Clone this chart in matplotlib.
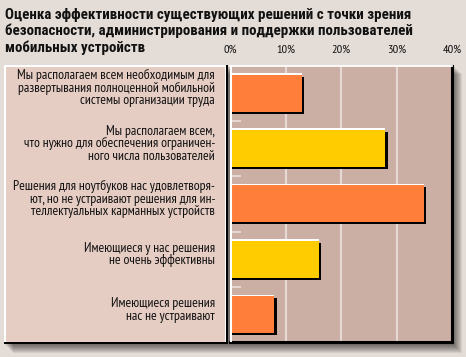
import matplotlib
matplotlib.use("Agg")
import matplotlib.pyplot as plt
import matplotlib.transforms as mtransforms
from matplotlib.patches import Rectangle
import logging
logging.getLogger("matplotlib.font_manager").setLevel(logging.ERROR)

# ---- data ----
title_lines = ["Оценка эффективности существующих решений с точки зрения",
               "безопасности, администрирования и поддержки пользователей",
               "мобильных устройств"]
categories = [
    "Мы располагаем всем необходимым для\nразвертывания полноценной мобильной\nсистемы организации труда",
    "Мы располагаем всем,\nчто нужно для обеспечения ограничен-\nного числа пользователей",
    "Решения для ноутбуков нас удовлетворя-\nют, но не устраивают решения для ин-\nтеллектуальных карманных устройств",
    "Имеющиеся у нас решения\nне очень эффективны",
    "Имеющиеся решения\nнас не устраивают",
]
values = [13, 28, 35, 16, 8]
bar_colors = ["#ff7f3a", "#ffcc00", "#ff7f3a", "#ffcc00", "#ff7f3a"]
xticks = [0, 10, 20, 30, 40]
xtick_labels = ["0%", "10%", "20%", "30%", "40%"]

W, H, DPI = 466, 357, 100
BG = "#e4dcd6"
PANEL = "#e6cdc4"
PLOT_BG = "#cbaea4"
GRID = "#e6d8d2"
TXT = "#111111"

FONT = ["PT Sans Narrow", "Roboto Condensed", "Liberation Sans Narrow", "DejaVu Sans"]
TITLE_FONT = ["Roboto Condensed", "PT Sans Narrow", "Liberation Sans Narrow", "DejaVu Sans"]
plt.rcParams["font.family"] = FONT

fig = plt.figure(figsize=(W / DPI, H / DPI), dpi=DPI, facecolor=BG)
renderer = fig.canvas.get_renderer()
dpi_t = fig.dpi_scale_trans


def fx(x):
    return x / W


def fy(y):
    return 1 - y / H


def frect(x0, y0, x1, y1, **kw):
    r = Rectangle((fx(x0), fy(y1)), fx(x1) - fx(x0), fy(y0) - fy(y1),
                  transform=fig.transFigure, **kw)
    fig.add_artist(r)
    return r


def fit_size(s, target_px, base=10, **kw):
    t = fig.text(0, 0, s, fontsize=base, **kw)
    w = t.get_window_extent(renderer).width
    t.remove()
    return base * target_px / w


# soft shadow behind both panels
for i in range(1, 10):
    frect(4 + i, 65 + i, 453 + i, 344 + i, facecolor="black", alpha=0.07,
          edgecolor="none", zorder=0.1)

# left panel
frect(4, 65, 228, 344, facecolor="black", edgecolor="none", zorder=0.5)
frect(4, 65, 226, 342, facecolor="white", edgecolor="none", zorder=0.6)
frect(5.5, 66.5, 225, 341.5, facecolor=PANEL, edgecolor="none", zorder=0.7)

# main axes
ax_l, ax_r, ax_t, ax_b = 230, 452, 65.5, 342.3
ax = fig.add_axes([fx(ax_l), fy(ax_b), fx(ax_r) - fx(ax_l), fy(ax_t) - fy(ax_b)])
ax.set_facecolor(PLOT_BG)
ax.set_zorder(1)

y = list(range(len(categories)))
bh = 0.67
shadow_t = ax.transData + mtransforms.ScaledTranslation(2.2 / DPI, -2.0 / DPI, dpi_t)
white_t = ax.transData + mtransforms.ScaledTranslation(0, 1.5 / DPI, dpi_t)
ax.barh(y, values, height=bh, color="black", transform=shadow_t, zorder=3)
ax.barh(y, values, height=bh, color="white", transform=white_t, zorder=4)
ax.barh(y, values, height=bh, color=bar_colors, zorder=5)

ax.set_xlim(0, 40)
ax.set_ylim(len(categories) - 0.5, -0.5)

tick_fs = fit_size("10%", 19)
ax.set_xticks(xticks)
ax.set_xticklabels(xtick_labels, fontsize=tick_fs, color=TXT)
ax.xaxis.set_ticks_position("top")
ax.tick_params(axis="x", length=0, pad=7.4)
for g in xticks[1:-1]:
    ax.axvline(g, color=GRID, lw=1.6, zorder=1)
ax.axvline(0, color="white", lw=2.2, zorder=6)

ax.set_yticks([])
ax.set_yticks([i + 0.5 for i in range(len(categories) - 1)], minor=True)
ax.tick_params(axis="y", which="minor", direction="in", length=8, width=1.3,
               color="#e8dcd7", left=True, labelleft=False)

ax.spines["left"].set_visible(False)
ax.spines["top"].set_color("white")
ax.spines["top"].set_linewidth(1.3)
ax.spines["right"].set_color("black")
ax.spines["right"].set_linewidth(2.2)
ax.spines["bottom"].set_color("black")
ax.spines["bottom"].set_linewidth(2.2)

# category labels: one text per line
lab_fs = fit_size(categories[0].split("\n")[0], 201)
LINE_PX = 12.6
blend = mtransforms.blended_transform_factory(fig.transFigure, ax.transData)
for yi, c in zip(y, categories):
    lines = c.split("\n")
    n = len(lines)
    for j, ln in enumerate(lines):
        center_off = (j - (n - 1) / 2) * LINE_PX - 5.0   # px, positive = down
        base_off = center_off + 3.6
        t = blend + mtransforms.ScaledTranslation(0, -base_off / DPI, dpi_t)
        fig.text(fx(215), yi, ln, transform=t, ha="right", va="baseline",
                 fontsize=lab_fs, color=TXT)

# title: one text per line
title_fs = fit_size(title_lines[0], 407, fontweight="bold", family=TITLE_FONT)
for ln, b in zip(title_lines, [19.3, 35.5, 51.7]):
    fig.text(fx(5), fy(b), ln, ha="left", va="baseline", fontsize=title_fs,
             fontweight="bold", family=TITLE_FONT, color=TXT)

fig.savefig("out.png", dpi=DPI, facecolor=BG)
